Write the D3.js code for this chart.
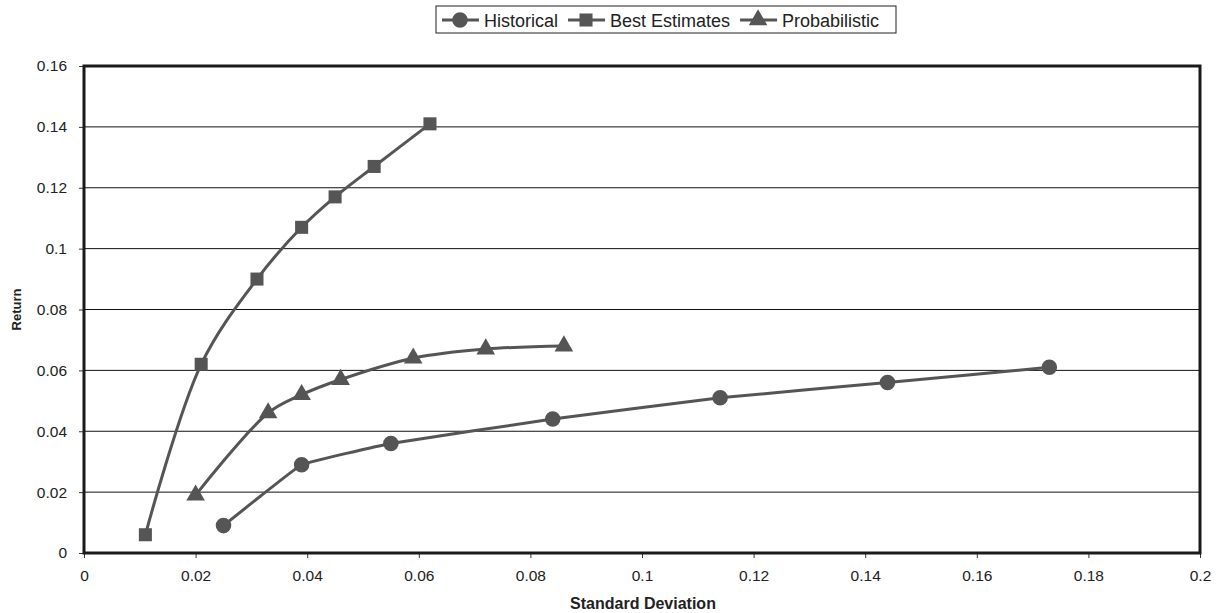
<!DOCTYPE html>
<html>
<head>
<meta charset="utf-8">
<script src="https://cdn.jsdelivr.net/npm/d3@7"></script>
<style>
  body { margin: 0; background: #fff; }
  text { font-family: "Liberation Sans", Arial, sans-serif; fill: #222; }
</style>
</head>
<body>
<script>
let w = 1220;
let h = 613;
let margin = {top: 66, right: 20, bottom: 60, left: 84};

// values (standard deviation, return)
let histX = [0.025, 0.039, 0.055, 0.084, 0.114, 0.144, 0.173];
let histY = [0.009, 0.029, 0.036, 0.044, 0.051, 0.056, 0.061];
let bestX = [0.011, 0.021, 0.031, 0.039, 0.045, 0.052, 0.062];
let bestY = [0.006, 0.062, 0.090, 0.107, 0.117, 0.127, 0.141];
let probX = [0.020, 0.033, 0.039, 0.046, 0.059, 0.072, 0.086];
let probY = [0.019, 0.046, 0.052, 0.057, 0.064, 0.067, 0.068];
let seriesNames = ["Historical", "Best Estimates", "Probabilistic"];
let xTicks = [0, 0.02, 0.04, 0.06, 0.08, 0.1, 0.12, 0.14, 0.16, 0.18, 0.2];
let yTicks = [0, 0.02, 0.04, 0.06, 0.08, 0.1, 0.12, 0.14, 0.16];

let series = [
  {name: seriesNames[0], shape: d3.symbolCircle, size: 190, curve: d3.curveCardinal.tension(0.8),
   pts: histX.map((x, i) => [x, histY[i]])},
  {name: seriesNames[1], shape: d3.symbolSquare, size: 170, curve: d3.curveCatmullRom.alpha(0.5),
   pts: bestX.map((x, i) => [x, bestY[i]])},
  {name: seriesNames[2], shape: d3.symbolTriangle, size: 150, curve: d3.curveCatmullRom.alpha(0.5),
   pts: probX.map((x, i) => [x, probY[i]])}
];

let color = "#555555";

let svg = d3.select("body")
    .append("svg")
    .attr("width", w)
    .attr("height", h);

let x = d3.scaleLinear().domain([0, 0.2]).range([margin.left, w - margin.right]);
let y = d3.scaleLinear().domain([0, 0.16]).range([h - margin.bottom, margin.top]);

// gridlines
svg.selectAll("line.grid")
    .data(yTicks.slice(1, -1))
    .enter()
    .append("line")
    .attr("class", "grid")
    .attr("x1", x(0)).attr("x2", x(0.2))
    .attr("y1", d => y(d)).attr("y2", d => y(d))
    .attr("stroke", "#111")
    .attr("stroke-width", 1);

// axes
let fmt = d => String(+d.toFixed(2));
let xAxis = svg.append("g")
    .attr("transform", `translate(0,${y(0)})`)
    .call(d3.axisBottom(x).tickValues(xTicks).tickFormat(fmt).tickSize(5).tickPadding(12));
let yAxis = svg.append("g")
    .attr("transform", `translate(${x(0)},0)`)
    .call(d3.axisLeft(y).tickValues(yTicks).tickFormat(fmt).tickSize(5).tickPadding(12));
[xAxis, yAxis].forEach(g => {
  g.select(".domain").remove();
  g.selectAll("line").attr("stroke", "#333");
  g.selectAll("text").style("font-size", "15.5px").style("font-family", "Liberation Sans, Arial, sans-serif").attr("fill", "#222");
});

// plot frame
svg.append("rect")
    .attr("x", x(0)).attr("y", y(0.16))
    .attr("width", x(0.2) - x(0)).attr("height", y(0) - y(0.16))
    .attr("fill", "none")
    .attr("stroke", "#1a1a1a")
    .attr("stroke-width", 3);

// lines
series.forEach(s => {
  let line = d3.line()
      .x(d => x(d[0]))
      .y(d => y(d[1]))
      .curve(s.curve);
  svg.append("path")
      .datum(s.pts)
      .attr("d", line)
      .attr("fill", "none")
      .attr("stroke", color)
      .attr("stroke-width", 3);
  svg.selectAll(null)
      .data(s.pts)
      .enter()
      .append("path")
      .attr("transform", d => `translate(${x(d[0])},${y(d[1])})`)
      .attr("d", d3.symbol().type(s.shape).size(s.size))
      .attr("fill", color);
});

// axis titles
svg.append("text")
    .attr("x", 643)
    .attr("y", 609)
    .attr("text-anchor", "middle")
    .style("font-size", "16px")
    .style("font-weight", "bold")
    .text("Standard Deviation");
svg.append("text")
    .attr("transform", `translate(21,${(y(0) + y(0.16)) / 2}) rotate(-90)`)
    .attr("text-anchor", "middle")
    .style("font-size", "13px")
    .style("font-weight", "bold")
    .text("Return");

// legend
let legend = svg.append("g");
legend.append("rect")
    .attr("x", 436).attr("y", 6)
    .attr("width", 460).attr("height", 27)
    .attr("fill", "#fff")
    .attr("stroke", "#222")
    .attr("stroke-width", 1);
let lx = 442;
series.forEach(s => {
  legend.append("line")
      .attr("x1", lx).attr("x2", lx + 37)
      .attr("y1", 20).attr("y2", 20)
      .attr("stroke", color).attr("stroke-width", 3);
  legend.append("path")
      .attr("transform", `translate(${lx + 18},20)`)
      .attr("d", d3.symbol().type(s.shape).size(s.size))
      .attr("fill", color);
  let t = legend.append("text")
      .attr("x", lx + 42).attr("y", 27)
      .style("font-size", "18px")
      .text(s.name);
  lx += 42 + t.node().getComputedTextLength() + 10;
});
</script>
</body>
</html>
